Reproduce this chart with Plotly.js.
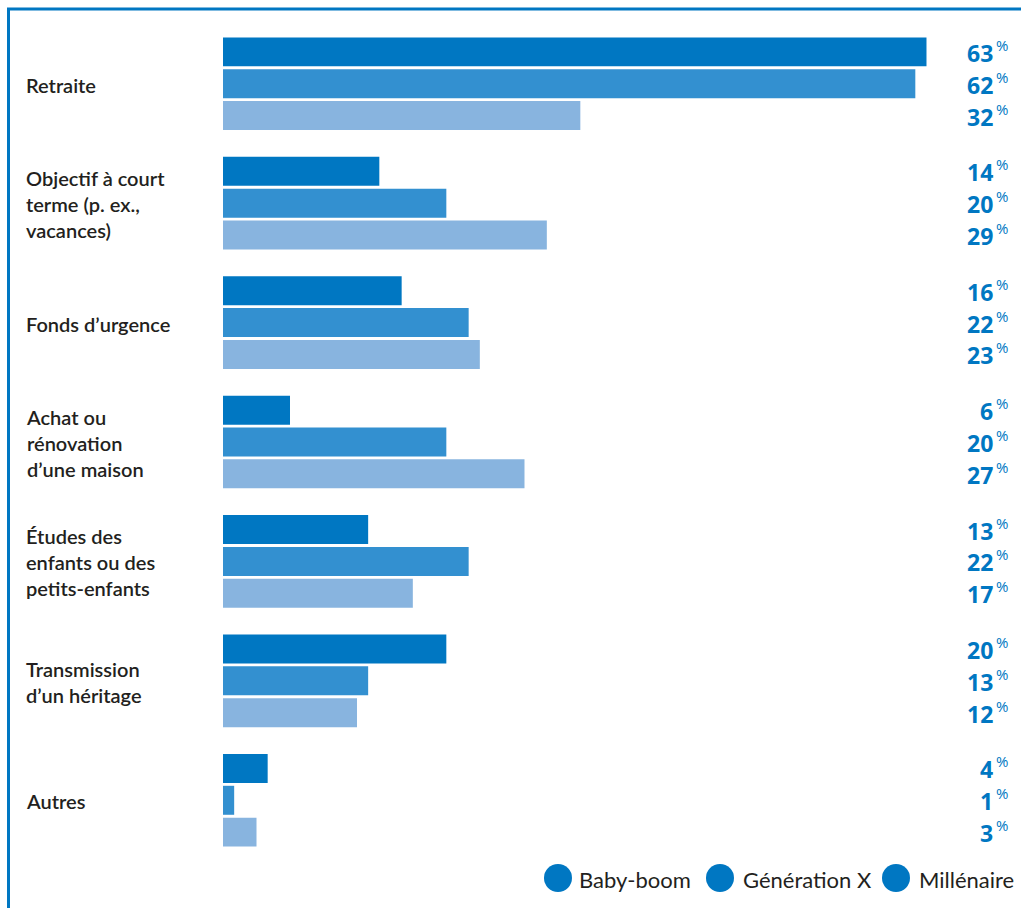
<!DOCTYPE html>
<html>
<head>
<meta charset="utf-8">
<script src="https://cdn.plot.ly/plotly-3.0.1.min.js"></script>
<style>
html,body{margin:0;padding:0;background:#fff;}
#chart{width:1021px;height:908px;}
</style>
</head>
<body>
<div id="chart"></div>
<script>
// ---- data ----
const categories = [
  "Retraite",
  "Objectif à court<br>terme (p. ex.,<br>vacances)",
  "Fonds d’urgence",
  "Achat ou<br>rénovation<br>d’une maison",
  "Études des<br>enfants ou des<br>petits-enfants",
  "Transmission<br>d’un héritage",
  "Autres"
];
const seriesNames = ["Baby-boom", "Génération X", "Millénaire"];
const babyBoom   = [63, 14, 16, 6, 13, 20, 4];
const generationX = [62, 20, 22, 20, 22, 13, 1];
const millenaire = [32, 29, 23, 27, 17, 12, 3];
const seriesValues = [babyBoom, generationX, millenaire];

// ---- style ----
const barColors = ["#0077C2", "#3390D0", "#88B4DF"];
const W = 1021, H = 908;
const M = {l: 223, r: 13, t: 24, b: 48};
const PW = W - M.l - M.r, PH = H - M.t - M.b;
const px = v => (v - M.l) / PW;          // pixel -> paper x
const py = v => (H - M.b - v) / PH;      // pixel -> paper y
const textDark = "#231f20";
const blue = "#0077C2";

const traces = seriesValues.map((vals, i) => ({
  type: "bar",
  orientation: "h",
  name: seriesNames[i],
  x: vals,
  y: categories,
  marker: {color: barColors[i], line: {width: 0}},
  showlegend: false,
  hoverinfo: "x+name"
}));

const annotations = [];
// category labels
categories.forEach(c => {
  annotations.push({
    xref: "paper", x: px(24), xanchor: "left",
    yref: "y", y: c, yanchor: "middle", yshift: -1,
    text: c, showarrow: false, align: "left",
    font: {family: "Lato, 'Open Sans', sans-serif", size: 20, color: textDark, weight: 600}
  });
});
// value labels
const slot = PH / categories.length * 0.8 / 3;
seriesValues.forEach((vals, i) => {
  vals.forEach((v, j) => {
    annotations.push({
      xref: "paper", x: px(995), xanchor: "right",
      yref: "y", y: categories[j], yanchor: "middle",
      yshift: (1 - i) * slot - 1,
      text: String(v), showarrow: false,
      font: {family: "'Open Sans', sans-serif", size: 23, color: blue, weight: 700}
    });
    annotations.push({
      xref: "paper", x: px(994), xanchor: "left",
      yref: "y", y: categories[j], yanchor: "middle",
      yshift: (1 - i) * slot + 7,
      text: "%", showarrow: false,
      font: {family: "'Open Sans', sans-serif", size: 15, color: blue, weight: 400}
    });
  });
});
// legend
const legendItems = [
  {cx: 558, tx: 577},
  {cx: 720, tx: 741},
  {cx: 896, tx: 917}
];
const shapes = [];
legendItems.forEach((li, i) => {
  shapes.push({
    type: "circle", xref: "paper", yref: "paper",
    xsizemode: "pixel", ysizemode: "pixel",
    xanchor: px(li.cx), yanchor: py(878),
    x0: -14, x1: 14, y0: -14, y1: 14,
    fillcolor: blue, line: {width: 0}
  });
  annotations.push({
    xref: "paper", x: px(li.tx), xanchor: "left",
    yref: "paper", y: py(879), yanchor: "middle",
    text: seriesNames[i], showarrow: false,
    font: {family: "Lato, 'Open Sans', sans-serif", size: 22, color: textDark}
  });
});
// frame
shapes.push({
  type: "path", xref: "paper", yref: "paper",
  path: `M ${px(8.5)} ${py(908)} L ${px(8.5)} ${py(9)} L ${px(1021)} ${py(9)}`,
  line: {color: blue, width: 3}, layer: "below"
});

const layout = {
  width: W, height: H,
  margin: M,
  paper_bgcolor: "#fff", plot_bgcolor: "#fff",
  barmode: "group",
  bargap: 0.2,
  bargroupgap: 0.09,
  xaxis: {range: [0, 70.3], visible: false, fixedrange: true},
  yaxis: {type: "category", autorange: "reversed", showticklabels: false, showgrid: false, zeroline: false, showline: false, ticks: ""},
  annotations: annotations,
  shapes: shapes,
  showlegend: false
};

Plotly.newPlot("chart", traces, layout, {displayModeBar: false, staticPlot: true});
</script>
</body>
</html>
